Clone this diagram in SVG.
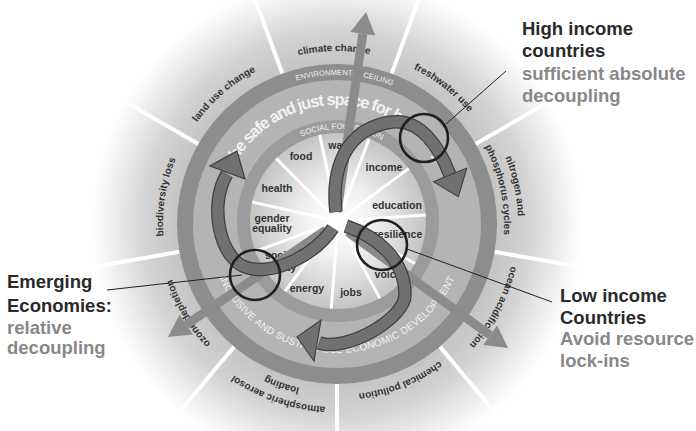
<svg xmlns="http://www.w3.org/2000/svg" width="696" height="431" viewBox="0 0 696 431">
<defs>
  <radialGradient id="outerFade" cx="337" cy="224" r="245" gradientUnits="userSpaceOnUse">
    <stop offset="0.64" stop-color="#c3c3c3"/>
    <stop offset="0.78" stop-color="#d2d2d2"/>
    <stop offset="0.9" stop-color="#ebebeb"/>
    <stop offset="1" stop-color="#ffffff"/>
  </radialGradient>
  <radialGradient id="coreGlow" cx="338" cy="221" r="88" gradientUnits="userSpaceOnUse">
    <stop offset="0" stop-color="#ffffff"/>
    <stop offset="0.4" stop-color="#f1f1f1"/>
    <stop offset="1" stop-color="#c4c4c4"/>
  </radialGradient>

  <!-- baselines for the boundary labels (clockwise arcs) -->
  <path id="arcClimate" d="M185.7,140.1 A173,173 0 0 1 485.3,134.9"/>
  <path id="arcFresh" d="M272.2,63.6 A173,173 0 0 1 508.3,248.1"/>
  <path id="arcNitro1" d="M392.9,51.8 A181,181 0 0 1 458.1,358.5"/>
  <path id="arcNitro2" d="M388.6,65.2 A167,167 0 0 1 448.7,348.1"/>
  <path id="arcOcean" d="M488.8,129.1 A179,179 0 0 1 343.2,402.9"/>
  <path id="arcChem" d="M506.3,247.8 A171,171 0 0 1 231.7,358.7"/>
  <path id="arcAtmo1" d="M457.1,362.1 A183,183 0 0 1 157.4,258.9"/>
  <path id="arcAtmo2" d="M447.2,350.7 A168,168 0 0 1 172.1,256"/>
  <path id="arcOzone" d="M340,398 A174,174 0 0 1 184.8,139.6"/>
  <path id="arcBio" d="M227.5,359.2 A174,174 0 0 1 274.6,61.6"/>
  <path id="arcLand" d="M167.2,257 A173,173 0 0 1 393.3,60.4"/>

  <!-- ring captions -->
  <path id="arcCeiling" d="M212,142.9 A149,149 0 0 1 469.8,156.4"/>
  <path id="arcFoundation" d="M260.4,171.6 A92,92 0 0 1 419.6,178.5"/>
  <path id="arcSafe" d="M219,225.1 A118,118 0 0 1 455,220.9"/>
  <path id="arcDevelop" d="M207,223 A130,130 0 0 0 467,223"/>
</defs>

<style>
  text { font-family: "Liberation Sans", Arial, sans-serif; }
  .pb { font-size: 10px; font-weight: bold; fill: #333; }
  .sf { font-size: 10.5px; font-weight: bold; fill: #333; text-anchor: middle; }
  .cap { fill: #f2f2f2; }
  .note { font-size: 18.5px; font-weight: bold; }
  .dark { fill: #2a2a2a; }
  .grey { fill: #888888; }
  .spoke-out { stroke: #ffffff; stroke-width: 4; }
  .spoke-in { stroke: #ffffff; stroke-width: 3; }
  .straight { stroke: #8b8b8b; stroke-width: 9; fill: none; }
  .straight-head { fill: #8b8b8b; }
  .curve-edge { stroke: #3f3f3f; stroke-width: 13.5; fill: none; }
  .curve-body { stroke: #717171; stroke-width: 11; fill: none; }
  .curve-head { fill: #717171; stroke: #3f3f3f; stroke-width: 1.2; }
  .ring-mark { fill: none; stroke: #1f1f1f; stroke-width: 2.6; }
  .leader { stroke: #222; stroke-width: 1; fill: none; }
</style>

<rect width="696" height="431" fill="#ffffff"/>

<!-- doughnut -->
<g id="doughnut">
  <circle cx="337" cy="224" r="245" fill="url(#outerFade)"/>
  <g class="spoke-out">
    <line x1="391.7" y1="73.6" x2="420.8" y2="-6.2"/>
    <line x1="282.3" y1="73.6" x2="253.2" y2="-6.2"/>
    <line x1="475.6" y1="144" x2="549.2" y2="101.5"/>
    <line x1="198.4" y1="144" x2="124.8" y2="101.5"/>
    <line x1="494.6" y1="251.8" x2="578.3" y2="266.5"/>
    <line x1="179.4" y1="251.8" x2="95.7" y2="266.5"/>
    <line x1="439.8" y1="346.6" x2="494.5" y2="411.7"/>
    <line x1="234.2" y1="346.6" x2="179.5" y2="411.7"/>
    <line x1="337" y1="384" x2="337" y2="469"/>
  </g>
  <circle cx="337" cy="224" r="152" fill="#b4b4b4" stroke="#8d8d8d" stroke-width="16"/>
  <circle cx="338" cy="221" r="94.5" fill="url(#coreGlow)" stroke="#9b9b9b" stroke-width="13"/>
  <g class="spoke-in">
    <line x1="336.75" y1="215.13" x2="319.7" y2="134.9"/>
    <line x1="340.1" y1="215.4" x2="369.1" y2="138.7"/>
    <line x1="342.8" y1="217.4" x2="408.7" y2="168.6"/>
    <line x1="344" y1="220.6" x2="425.8" y2="215.1"/>
    <line x1="343.3" y1="223.9" x2="415" y2="263.5"/>
    <line x1="340.9" y1="226.3" x2="379.9" y2="298.4"/>
    <line x1="337.5" y1="227" x2="331.3" y2="308.7"/>
    <line x1="334.4" y1="225.8" x2="284.9" y2="291.2"/>
    <line x1="332.4" y1="223.1" x2="255.4" y2="251.4"/>
    <line x1="332.1" y1="219.7" x2="252.1" y2="202"/>
    <line x1="333.8" y1="216.7" x2="276.1" y2="158.4"/>
  </g>
</g>

<!-- ring captions -->
<g id="ring-captions">
  <text class="cap" font-size="7.5" letter-spacing="0.1"><textPath href="#arcCeiling" startOffset="50%" text-anchor="middle">ENVIRONMENTAL CEILING</textPath></text>
  <text class="cap" font-size="8"><textPath href="#arcFoundation" startOffset="50%" text-anchor="middle">SOCIAL FOUNDATION</textPath></text>
  <text class="cap" font-size="16.5" font-weight="bold" letter-spacing="-1.2"><textPath href="#arcSafe" startOffset="50%" text-anchor="middle">the safe and just space for humanity</textPath></text>
  <text class="cap" font-size="10" letter-spacing="0.25"><textPath href="#arcDevelop" startOffset="50%" text-anchor="middle">INCLUSIVE AND SUSTAINABLE ECONOMIC DEVELOPMENT</textPath></text>
</g>

<!-- planetary boundaries -->
<g id="boundaries" class="pb">
  <text><textPath href="#arcClimate" startOffset="50%" text-anchor="middle">climate change</textPath></text>
  <text><textPath href="#arcFresh" startOffset="50%" text-anchor="middle">freshwater use</textPath></text>
  <text><textPath href="#arcNitro1" startOffset="50%" text-anchor="middle">nitrogen and</textPath></text>
  <text><textPath href="#arcNitro2" startOffset="50%" text-anchor="middle">phosphorus cycles</textPath></text>
  <text><textPath href="#arcOcean" startOffset="50%" text-anchor="middle">ocean acidification</textPath></text>
  <text><textPath href="#arcChem" startOffset="50%" text-anchor="middle">chemical pollution</textPath></text>
  <text><textPath href="#arcAtmo1" startOffset="50%" text-anchor="middle">atmospheric aerosol</textPath></text>
  <text><textPath href="#arcAtmo2" startOffset="50%" text-anchor="middle">loading</textPath></text>
  <text><textPath href="#arcOzone" startOffset="50%" text-anchor="middle">ozone depletion</textPath></text>
  <text><textPath href="#arcBio" startOffset="50%" text-anchor="middle">biodiversity loss</textPath></text>
  <text><textPath href="#arcLand" startOffset="50%" text-anchor="middle">land use change</textPath></text>
</g>

<!-- social foundation sectors -->
<g id="foundation-labels">
  <text class="sf" x="342" y="149">water</text>
  <text class="sf" x="384" y="171">income</text>
  <text class="sf" x="397" y="209">education</text>
  <text class="sf" x="398" y="238">resilience</text>
  <text class="sf" x="388" y="278">voice</text>
  <text class="sf" x="351" y="296">jobs</text>
  <text class="sf" x="307" y="292">energy</text>
  <text class="sf" x="280" y="259">social</text>
  <text class="sf" x="281" y="271">equity</text>
  <text class="sf" x="272" y="222">gender</text>
  <text class="sf" x="272" y="232">equality</text>
  <text class="sf" x="277" y="192">health</text>
  <text class="sf" x="301" y="160">food</text>
</g>

<!-- connectors -->
<g id="connectors">
  <g id="straight-arrows">
    <line class="straight" x1="337" y1="212" x2="362.8" y2="33.8"/>
    <polygon class="straight-head" points="366,12 375.2,35.6 350.4,32"/>
    <line class="straight" x1="326" y1="230" x2="186.2" y2="324.7"/>
    <polygon class="straight-head" points="168,337 192.9,334.6 179.5,314.8"/>
    <line class="straight" x1="348" y1="232" x2="490.1" y2="335.2"/>
    <polygon class="straight-head" points="508,348 483.1,345 497.1,325.4"/>
  </g>
  <g id="spiral-arrows">
    <path class="curve-edge" d="M336,212 C331,170 345,128 392,122 C420,118.4 439.3,147 450,175"/>
    <path class="curve-body" d="M336,212 C331,170 345,128 392,122 C420,118.4 439.3,147 450,175"/>
    <polygon class="curve-head" points="433.3,181.7 466.7,168.3 458.3,196.7"/>

    <path class="curve-edge" d="M333,228 C315,255 275,275 248,268 C220,261 208,205 227,174"/>
    <path class="curve-body" d="M333,228 C315,255 275,275 248,268 C220,261 208,205 227,174"/>
    <polygon class="curve-head" points="210,166 245,179 237,151"/>

    <path class="curve-edge" d="M346,226 C375,236 405,258 405,295 C405,318 347.5,352.3 319,343"/>
    <path class="curve-body" d="M346,226 C375,236 405,258 405,295 C405,318 347.5,352.3 319,343"/>
    <polygon class="curve-head" points="297,337 321,320 314,361"/>
  </g>
  <g id="leaders">
    <line class="leader" x1="446" y1="124" x2="506" y2="71"/>
    <line class="leader" x1="407" y1="249" x2="552" y2="302"/>
    <line class="leader" x1="107" y1="290" x2="242" y2="275"/>
  </g>
</g>

<!-- highlight rings -->
<g id="highlight-high"><circle class="ring-mark" cx="424" cy="138" r="24"/></g>
<g id="highlight-low"><circle class="ring-mark" cx="382" cy="245" r="25"/></g>
<g id="highlight-emerging"><circle class="ring-mark" cx="255" cy="275" r="25"/></g>

<!-- annotations -->
<g id="high-income" class="note">
  <text class="dark" x="522" y="34.5">High income</text>
  <text class="dark" x="522" y="57">countries</text>
  <text class="grey" x="522" y="79.5">sufficient absolute</text>
  <text class="grey" x="522" y="101.5">decoupling</text>
</g>
<g id="low-income" class="note">
  <text class="dark" x="560" y="301.5">Low income</text>
  <text class="dark" x="560" y="323.5">Countries</text>
  <text class="grey" x="560" y="345">Avoid resource</text>
  <text class="grey" x="560" y="366.5">lock-ins</text>
</g>
<g id="emerging" class="note">
  <text class="dark" x="7" y="288">Emerging</text>
  <text class="dark" x="7" y="311.5">Economies:</text>
  <text class="grey" x="7" y="333.5">relative</text>
  <text class="grey" x="7" y="354">decoupling</text>
</g>
</svg>
